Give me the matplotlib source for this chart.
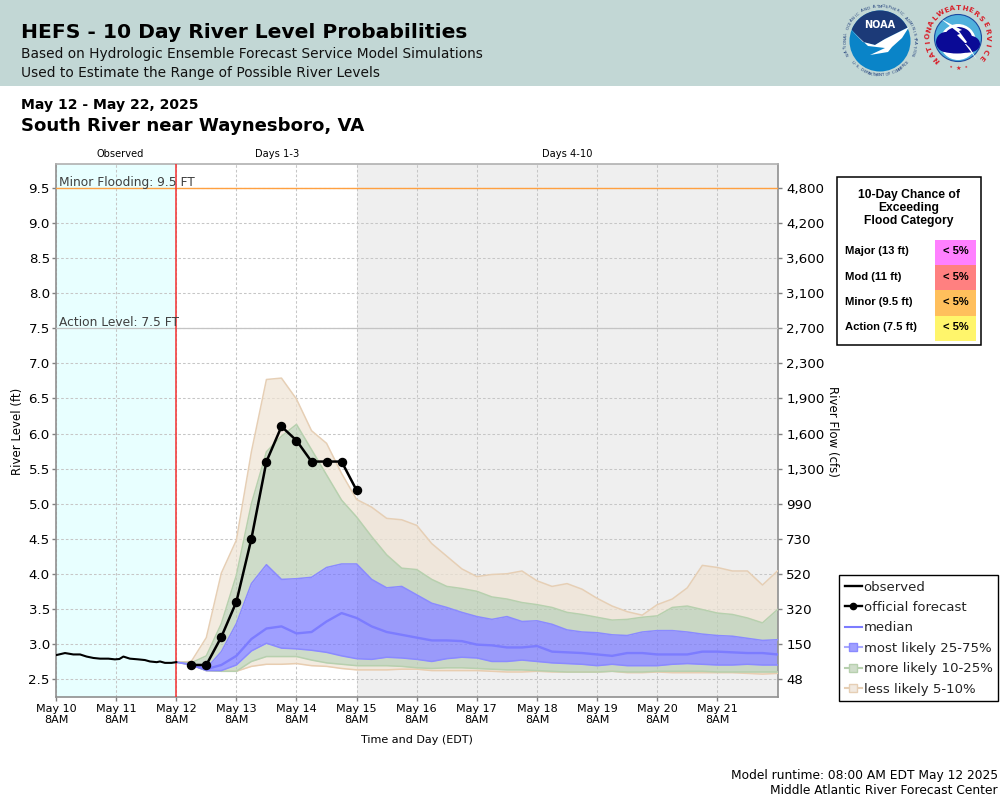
import numpy as np
import matplotlib
matplotlib.use("Agg")
import matplotlib.pyplot as plt
from matplotlib.lines import Line2D
from matplotlib.patches import Rectangle, Circle, Polygon, Ellipse

# ---- data (hours since May 10 8AM) ----
obs_hours = [0, 3.6, 6.9, 9.6, 12.2, 14.9, 17.6, 20.9, 23.5, 25.3, 26.9, 29.5, 32.8, 35.5, 37.5, 40.2, 41.5, 43.5, 46.1, 48]
obs_level = [2.84, 2.87, 2.85, 2.85, 2.82, 2.80, 2.79, 2.79, 2.78, 2.785, 2.82, 2.79, 2.78, 2.77, 2.75, 2.74, 2.75, 2.73, 2.73, 2.74]

fc_hours = [54, 60, 66, 72, 78, 84, 90, 96, 102, 108, 114, 120]
fc_level = [2.70, 2.70, 3.10, 3.60, 4.50, 5.60, 6.10, 5.90, 5.60, 5.60, 5.60, 5.19]

band_hours = [48] + list(range(54, 289, 6))
p95 = [2.74, 2.75, 3.09, 4.01, 4.48, 5.74, 6.77, 6.79, 6.49, 6.04, 5.86, 5.43, 5.06, 4.95, 4.79, 4.77, 4.69,
       4.43, 4.25, 4.07, 3.96, 3.99, 4.00, 4.04, 3.90, 3.82, 3.86, 3.78, 3.65, 3.54, 3.46, 3.41, 3.56, 3.64, 3.80, 4.12, 4.09, 4.04, 4.04, 3.84, 4.04]
p90 = [2.74, 2.73, 2.83, 3.29, 3.98, 5.00, 5.74, 5.96, 6.13, 5.77, 5.41, 5.05, 4.81, 4.53, 4.27, 4.08, 4.06,
       3.92, 3.82, 3.79, 3.75, 3.67, 3.64, 3.59, 3.56, 3.52, 3.45, 3.42, 3.38, 3.34, 3.35, 3.38, 3.40, 3.52, 3.54, 3.49, 3.44, 3.42, 3.37, 3.30, 3.49]
p75 = [2.74, 2.71, 2.65, 2.89, 3.29, 3.86, 4.13, 3.92, 3.93, 3.95, 4.09, 4.14, 4.14, 3.92, 3.80, 3.82, 3.70,
       3.58, 3.52, 3.45, 3.39, 3.35, 3.39, 3.32, 3.33, 3.28, 3.20, 3.17, 3.16, 3.13, 3.12, 3.17, 3.19, 3.19, 3.17, 3.14, 3.12, 3.11, 3.08, 3.05, 3.06]
median = [2.74, 2.70, 2.64, 2.70, 2.83, 3.07, 3.22, 3.25, 3.15, 3.17, 3.32, 3.44, 3.37, 3.25, 3.17, 3.13, 3.09,
          3.05, 3.05, 3.04, 2.99, 2.98, 2.95, 2.95, 2.97, 2.89, 2.88, 2.87, 2.85, 2.83, 2.87, 2.87, 2.85, 2.85, 2.85, 2.89, 2.89, 2.88, 2.87, 2.87, 2.85]
p25 = [2.74, 2.70, 2.62, 2.62, 2.70, 2.90, 3.01, 2.94, 2.93, 2.91, 2.88, 2.83, 2.79, 2.78, 2.81, 2.80, 2.78,
       2.75, 2.79, 2.81, 2.80, 2.75, 2.75, 2.77, 2.75, 2.73, 2.72, 2.71, 2.69, 2.71, 2.69, 2.69, 2.69, 2.71, 2.72, 2.71, 2.70, 2.70, 2.71, 2.70, 2.70]
p10 = [2.74, 2.70, 2.62, 2.61, 2.61, 2.75, 2.82, 2.82, 2.82, 2.77, 2.73, 2.71, 2.69, 2.69, 2.69, 2.68, 2.66,
       2.65, 2.66, 2.66, 2.65, 2.64, 2.63, 2.63, 2.62, 2.61, 2.60, 2.60, 2.60, 2.61, 2.60, 2.60, 2.61, 2.61, 2.61, 2.61, 2.60, 2.60, 2.60, 2.60, 2.60]
p05 = [2.74, 2.70, 2.62, 2.61, 2.61, 2.68, 2.71, 2.71, 2.72, 2.69, 2.68, 2.65, 2.63, 2.63, 2.63, 2.64, 2.64,
       2.62, 2.62, 2.62, 2.62, 2.61, 2.60, 2.60, 2.61, 2.60, 2.60, 2.60, 2.60, 2.61, 2.59, 2.59, 2.60, 2.59, 2.59, 2.59, 2.59, 2.59, 2.58, 2.57, 2.58]

stage_ticks = [2.5, 3.0, 3.5, 4.0, 4.5, 5.0, 5.5, 6.0, 6.5, 7.0, 7.5, 8.0, 8.5, 9.0, 9.5]
flow_labels = ["48", "150", "320", "520", "730", "990", "1,300", "1,600", "1,900", "2,300", "2,700", "3,100", "3,600", "4,200", "4,800"]
day_labels = ["May 10\n8AM", "May 11\n8AM", "May 12\n8AM", "May 13\n8AM", "May 14\n8AM", "May 15\n8AM",
              "May 16\n8AM", "May 17\n8AM", "May 18\n8AM", "May 19\n8AM", "May 20\n8AM", "May 21\n8AM"]
cat_labels = ["Major (13 ft)", "Mod (11 ft)", "Minor (9.5 ft)", "Action (7.5 ft)"]
cat_values = ["< 5%", "< 5%", "< 5%", "< 5%"]
cat_colors = ["#FF80FF", "#FF8080", "#FFBF5C", "#FFF56B"]

# ---- styles ----
TAN, TAN_E = "#EFE3D3", "#E6CFB5"
GRN, GRN_E = "#BACEB3", "#B7D0AE"
BLU, BLU_E = "#7777FF", "#8A8AFF"
W, H = 1000, 800

fig = plt.figure(figsize=(10, 8), dpi=100, facecolor="white")
L, R, T, B = 56, 778, 164, 697
ax = fig.add_axes([L / W, 1 - B / H, (R - L) / W, (B - T) / H])
ax.set_xlim(0, 288.2)
ax.set_ylim(2.5 - 18 / 70.14, 9.5 + 24 / 70.14)

ax.axvspan(0, 48, color="#E8FFFF", lw=0, zorder=0)
ax.axvspan(120, 288.2, color="#EFEFEF", lw=0, zorder=0)

ax.set_xticks(np.arange(0, 288, 24))
ax.set_xticklabels(day_labels, fontsize=8.0, linespacing=1.1)
ax.set_yticks(stage_ticks)
ax.set_yticklabels([f"{s:.1f}" for s in stage_ticks], fontsize=9.6)
ax.grid(True, color="#C6C6C6", linestyle=(0, (2.5, 2)), linewidth=0.75, zorder=1)
ax.set_axisbelow(True)
ax.tick_params(axis="y", color="#808080", length=3, width=1, pad=1.5)
ax.tick_params(axis="x", color="#808080", length=3, width=1, pad=2)
for s in ax.spines.values():
    s.set_color("#909090")
    s.set_linewidth(1.2)
ax.spines["top"].set_color("#B0B0B0")

h = np.array(band_hours)
bands = [(p90, p95, TAN, .7), (p05, p10, TAN, .7),
         (p75, p90, GRN, .7), (p10, p25, GRN, .7),
         (p25, p75, BLU, .7)]
for lo, hi, c, a in bands:
    ax.fill_between(h, lo, hi, color=c, alpha=a, lw=0, zorder=2)
for arr, e in [(p95, TAN_E), (p05, "#E8CDB0"), (p90, GRN_E), (p10, GRN_E), (p75, BLU_E), (p25, BLU_E)]:
    ax.plot(h, arr, color=e, lw=1.1, zorder=3)
ax.plot(h[1:], median[1:], color="#7C7CFF", lw=1.7, zorder=4)

ax.axhline(9.5, color="#FFA040", lw=1.0, zorder=3)
ax.axhline(7.5, color="#C4C4C4", lw=0.9, zorder=3)
ax.axvline(48, color="#F53030", lw=1.1, zorder=5)
ax.text(1.2, 9.49, "Minor Flooding: 9.5 FT", fontsize=8.85, color="#404040", va="bottom", zorder=6)
ax.text(1.2, 7.49, "Action Level: 7.5 FT", fontsize=8.85, color="#404040", va="bottom", zorder=6)

ax.plot(obs_hours, obs_level, color="black", lw=1.5, zorder=6)
ax.plot(fc_hours, fc_level, color="black", lw=1.8, marker="o", ms=5.8, zorder=7)

ax2 = ax.twinx()
ax2.set_ylim(ax.get_ylim())
ax2.set_yticks(stage_ticks)
ax2.set_yticklabels(flow_labels, fontsize=9.6)
ax2.tick_params(axis="y", color="#808080", length=3, width=1, pad=3)
for s in ax2.spines.values():
    s.set_visible(False)

handles = [
    Line2D([], [], color="black", lw=1.7),
    Line2D([], [], color="black", lw=1.7, marker="o", ms=4.5),
    Line2D([], [], color="#7C7CFF", lw=1.5),
    Line2D([], [], color="#A9A9FF", lw=1.5, marker="s", ms=5.2, mfc="#A0A0FF", mec="#8A8AFF"),
    Line2D([], [], color="#B7D0AE", lw=1.5, marker="s", ms=5.2, mfc="#CFDDCA", mec="#B7D0AE"),
    Line2D([], [], color="#E6CFB5", lw=1.5, marker="s", ms=5.2, mfc="#F1E9E0", mec="#E6CFB5"),
]
labels = ["observed", "official forecast", "median", "most likely 25-75%", "more likely 10-25%", "less likely 5-10%"]
leg = fig.legend(handles, labels, loc="upper left", bbox_to_anchor=(839 / W, 1 - 575 / H), bbox_transform=fig.transFigure,
                 fontsize=9.55, frameon=True, fancybox=False, edgecolor="black", framealpha=1,
                 handlelength=1.34, handletextpad=0.1, labelspacing=0.56, borderpad=0.42, borderaxespad=0)
leg.get_frame().set_linewidth(1.0)
for t in leg.get_texts():
    t.set_color("#222222")

# ---- page furniture in pixel coordinates ----
ov = fig.add_axes([0, 0, 1, 1], zorder=-1)
ov.set_xlim(0, W)
ov.set_ylim(H, 0)
ov.axis("off")
ov.add_patch(Rectangle((0, 0), W, 86, color="#C2D7D5", lw=0))

ov2 = fig.add_axes([0, 0, 1, 1], zorder=5)
ov2.set_xlim(0, W)
ov2.set_ylim(H, 0)
ov2.axis("off")
ov2.patch.set_alpha(0)

def txt(x, y, s, **k):
    k.setdefault("va", "center")
    ov2.text(x, y, s, **k)

txt(21, 33, "HEFS - 10 Day River Level Probabilities", fontsize=14.6, fontweight="bold", color="black")
txt(21, 54, "Based on Hydrologic Ensemble Forecast Service Model Simulations", fontsize=9.9, color="#111111")
txt(21, 73, "Used to Estimate the Range of Possible River Levels", fontsize=9.9, color="#111111")
txt(21, 105, "May 12 - May 22, 2025", fontsize=10.1, fontweight="bold")
txt(21, 126, "South River near Waynesboro, VA", fontsize=13.1, fontweight="bold")
txt(120, 154, "Observed", fontsize=7.1, ha="center")
txt(277, 154, "Days 1-3", fontsize=7.1, ha="center")
txt(567, 154, "Days 4-10", fontsize=7.1, ha="center")
txt(18, 431, "River Level (ft)", fontsize=8.5, rotation=90, ha="center")
txt(832, 431, "River Flow (cfs)", fontsize=8.5, rotation=-90, ha="center")
txt(417, 740, "Time and Day (EDT)", fontsize=8.05, ha="center")
txt(998, 775, "Model runtime: 08:00 AM EDT May 12 2025", fontsize=8.8, ha="right")
txt(998, 791, "Middle Atlantic River Forecast Center", fontsize=8.8, ha="right")

# flood category table
ov2.add_patch(Rectangle((836.5, 176.5), 144, 168.5, fc="white", ec="black", lw=1.1))
for dy, line in zip([195, 208, 221], ["10-Day Chance of", "Exceeding", "Flood Category"]):
    txt(909, dy, line, fontsize=8.75, fontweight="bold", family="Liberation Sans", ha="center")
for i, (lab, val, col) in enumerate(zip(cat_labels, cat_values, cat_colors)):
    top = 240 + 25.2 * i
    ov2.add_patch(Rectangle((935, top), 41, 25.2, color=col, lw=0))
    txt(845, top + 11.5, lab, fontsize=8.15, fontweight="bold", family="Liberation Sans")
    txt(955.5, top + 11.5, val, fontsize=8.0, fontweight="bold", family="Liberation Sans", ha="center")

def ring_text(cx, cy, r, s, a0, a1, flip=False, **k):
    for ch, a in zip(s, np.linspace(a0, a1, len(s))):
        x, y = cx + r * np.sin(np.radians(a)), cy - r * np.cos(np.radians(a))
        rot = 180 - a if flip else -a
        ov2.text(x, y, ch, rotation=rot, ha="center", va="center", rotation_mode="anchor", **k)

# NOAA emblem
cx, cy = 880, 41
ov2.add_patch(Circle((cx, cy), 30.5, fc="#0A84C8", ec="none"))
top_cap = [(cx + 30.5 * np.sin(np.radians(a)), cy - 30.5 * np.cos(np.radians(a))) for a in range(-68, 69, 6)]
ov2.add_patch(Polygon(top_cap + [(cx + 5, cy - 2), (cx - 5, cy + 4), (cx - 17, cy + 1)], fc="#1C3A78", ec="none"))
ov2.add_patch(Polygon([(cx - 30, cy - 12), (cx - 17, cy + 1), (cx - 5, cy + 4), (cx + 5, cy - 2), (cx + 29, cy - 14),
                       (cx + 22, cy - 3), (cx + 12, cy + 6), (cx + 8, cy + 11), (cx - 10, cy + 14), (cx + 5, cy + 7),
                       (cx - 12, cy + 5)], fc="white", ec="none"))
ov2.text(cx, cy - 16, "NOAA", color="white", fontsize=7, fontweight="bold", ha="center", va="center")
ring_text(cx, cy, 34.5, "NATIONAL OCEANIC AND ATMOSPHERIC ADMINISTRATION", -112, 112, fontsize=2.9, color="#1C3A78")
ring_text(cx, cy, 34.5, "U.S. DEPARTMENT OF COMMERCE", 232, 128, flip=True, fontsize=2.9, color="#1C3A78")

# NWS emblem
cx, cy = 958, 38
ov2.add_patch(Circle((cx, cy), 23.5, fc="#4FB0DC", ec="#1A4AA0", lw=0.8))
ov2.add_patch(Circle((cx, cy + 4), 18, fc="white", ec="none"))
for ex, ey, ew, eh in [(-12, 4, 20, 20), (0, 0, 28, 22), (11, 6, 22, 17), (-1, 10, 36, 11)]:
    ov2.add_patch(Ellipse((cx + ex, cy + ey), ew, eh, fc="#0A0A96", ec="none"))
ov2.add_patch(Polygon([(cx - 17, cy - 19), (cx + 2, cy - 4), (cx - 1, cy - 3), (cx + 12, cy + 10), (cx + 19, cy + 22),
                       (cx + 7, cy + 6), (cx + 9, cy + 4), (cx + 1, cy - 7), (cx + 4, cy - 8)], fc="white", ec="none"))
ring_text(cx, cy, 30, "NATIONAL", -135, -48, fontsize=5.2, color="#D8202A", fontweight="bold")
ring_text(cx, cy, 30, "WEATHER", -34, 36, fontsize=5.2, color="#D8202A", fontweight="bold")
ring_text(cx, cy, 30, "SERVICE", 50, 130, fontsize=5.2, color="#D8202A", fontweight="bold")
ring_text(cx, cy, 30, "\u2022 \u2605 \u2022", 195, 165, flip=True, fontsize=4.5, color="#D8202A")

fig.savefig("out.png", dpi=100)
